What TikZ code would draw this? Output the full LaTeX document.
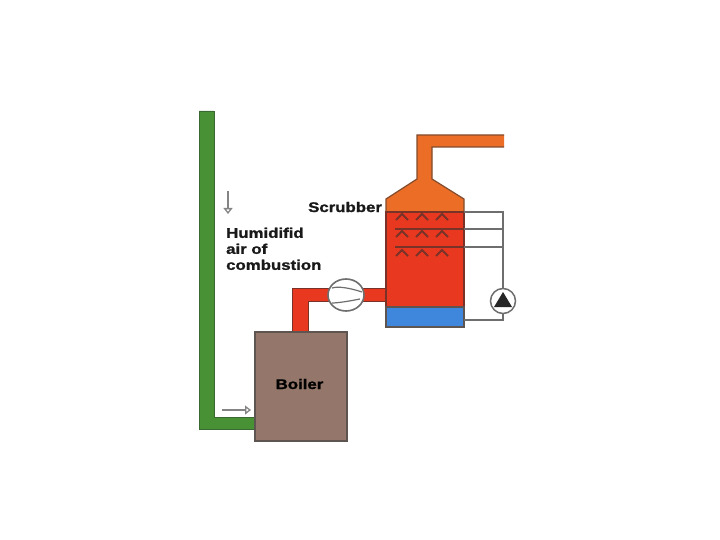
\documentclass[tikz,border=0pt]{standalone}
\usepackage{fontspec}
\setmainfont{Liberation Sans}
\newfontfamily\widebold[FakeStretch=1.2,FakeBold=1.2]{Liberation Sans Bold}
\usetikzlibrary{arrows.meta,shapes.geometric}
\definecolor{grn}{RGB}{72,145,52}
\definecolor{grnd}{RGB}{58,105,50}
\definecolor{redf}{RGB}{233,56,32}
\definecolor{redd}{RGB}{120,50,40}
\definecolor{orf}{RGB}{236,110,38}
\definecolor{ord}{RGB}{130,75,45}
\definecolor{bluef}{RGB}{62,135,220}
\definecolor{brn}{RGB}{148,118,106}
\definecolor{brnd}{RGB}{95,85,80}
\definecolor{gr}{RGB}{110,110,110}
\tikzset{
  x=1pt,y=-1pt,
  label text/.style={font=\widebold\fontsize{14}{16}\selectfont,inner sep=0pt,text=black!90,align=left},
  pipe/.style={draw=gr,line width=1.5pt},
  spray/.style={draw=redd,line width=1.5pt},
  spraytip/.style={draw=redd,line width=2pt},
  flowarrow/.style={draw=gr!85,line width=1.8pt,-{Triangle[open,length=6pt,width=9pt,fill=white,line width=1.3pt]}}
}
\newcommand{\spraymark}[2]{\draw[spraytip] (#1-6,#2+6) -- (#1,#2) -- (#1+6,#2+6);}
\begin{document}
\begin{tikzpicture}
\useasboundingbox (0,0) rectangle (720,540);
\fill[white] (0,0) rectangle (720,540);
% green duct
\draw[draw=grnd,fill=grn,line width=.8pt] (199,111) -- (214,111) -- (214,417) -- (256,417) -- (256,429) -- (199,429) -- cycle;
% red duct
\draw[draw=redd,fill=redf,line width=1pt] (292,333) -- (292,288) -- (387,288) -- (387,301) -- (308,301) -- (308,333) -- cycle;
% scrubber
\fill[orf] (417,135) -- (504,135) -- (504,147) -- (432,147) -- (432,179) -- (464,199) -- (464,213) -- (386,213) -- (386,199) -- (417,179) -- cycle;
\draw[draw=ord,line width=1.2pt] (504,135) -- (417,135) -- (417,179) -- (386,199) -- (386,213) -- (464,213) -- (464,199) -- (432,179) -- (432,147) -- (504,147);
\draw[draw=redd,fill=redf,line width=1.2pt] (386,212) rectangle (464,307);
\draw[draw=brnd,fill=bluef,line width=1.2pt] (386,307) rectangle (464,327);
% pipework
\node[circle,draw=gr,fill=white,line width=1.5pt,minimum size=25pt,inner sep=0pt] (pump) at (503,301) {};
\coordinate (top1) at (395,212);
\coordinate (top2) at (395,229);
\coordinate (top3) at (395,247);
\coordinate (rtop) at (503,212);
\coordinate (r2) at (503,229);
\coordinate (r3) at (503,247);
\coordinate (rbot) at (503,320);
\coordinate (tank) at (464,320);
\draw[pipe] (464,212) -- (rtop) -- (pump.north);
\draw[pipe] (464,229) -- (r2);
\draw[pipe] (464,247) -- (r3);
\draw[pipe] (pump.south) -- (rbot) -- (tank);
\draw[spray] (top1) -- (464,212);
\draw[spray] (top2) -- (464,229);
\draw[spray] (top3) -- (464,247);
\fill[black!85] (503,292) -- (512,307) -- (494,307) -- cycle;
% sprays
\foreach \yy in {214,231,250}{\spraymark{402}{\yy}\spraymark{422}{\yy}\spraymark{442}{\yy}}
% fan
\node[ellipse,draw=gr,fill=white,line width=1.6pt,minimum width=36pt,minimum height=32pt,inner sep=0pt] (fan) at (346,295) {};
\draw[gr,line width=1.2pt] (332,288) .. controls (338,286) and (350,288) .. (362,292);
\draw[gr,line width=1.2pt] (332,303) .. controls (338,303) and (350,301) .. (360,299);
% boiler
\node[draw=brnd,fill=brn,line width=1.2pt,minimum width=92pt,minimum height=109pt,inner sep=0pt] (boiler) at (301,386.5) {};
\node[label text,text=black] (boilerlabel) at (299.5,384) {Boiler};
% arrows
\coordinate (d1) at (228,191);
\coordinate (d2) at (228,214);
\coordinate (r1) at (222,410);
\coordinate (r4) at (251,410);
\draw[flowarrow] (d1) -- (d2);
\draw[flowarrow] (r1) -- (r4);
% labels
\node[label text,anchor=west] (scrub) at (308,207) {Scrubber};
\node[label text,anchor=north west] (humid) at (226,227.5) {Humidifid\\air of\\combustion};
\end{tikzpicture}
\end{document}
